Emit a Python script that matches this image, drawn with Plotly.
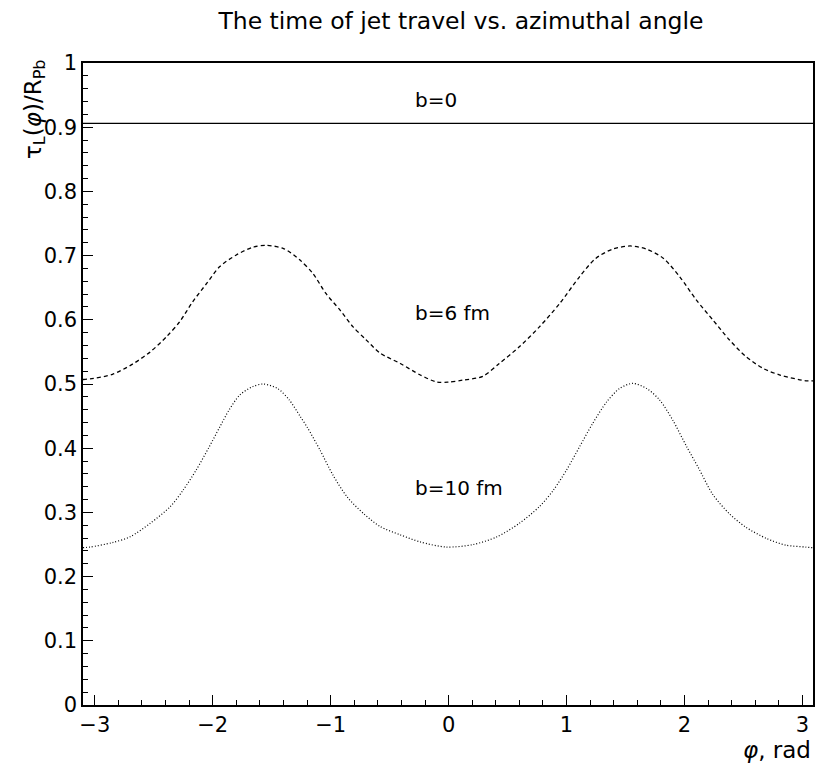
import plotly.graph_objects as go

phi_b0 = [-3.1, 3.09]
tau_b0 = [0.906, 0.906]

phi_b6 = [-3.10, -3.04, -2.85, -2.68, -2.53, -2.39, -2.28, -2.17, -2.05, -1.94, -1.80, -1.66, -1.55,
          -1.40, -1.26, -1.15, -1.04, -0.92, -0.81, -0.70, -0.58, -0.41, -0.24, -0.10, 0.0, 0.12,
          0.29, 0.43, 0.60, 0.77, 0.94, 1.11, 1.25, 1.39, 1.54, 1.68, 1.82, 1.96, 2.10, 2.24,
          2.38, 2.52, 2.67, 2.81, 3.03, 3.09]
tau_b6 = [0.507, 0.508, 0.515, 0.531, 0.550, 0.574, 0.597, 0.628, 0.657, 0.683, 0.701, 0.713, 0.716,
          0.711, 0.693, 0.672, 0.641, 0.615, 0.589, 0.569, 0.548, 0.532, 0.514, 0.503, 0.503, 0.506,
          0.512, 0.532, 0.558, 0.589, 0.625, 0.667, 0.696, 0.710, 0.715, 0.710, 0.696, 0.667, 0.631, 0.600,
          0.569, 0.543, 0.524, 0.514, 0.505, 0.505]

phi_b10 = [-3.10, -3.04, -2.85, -2.70, -2.53, -2.36, -2.25, -2.14, -2.03, -1.94, -1.86, -1.77, -1.66,
           -1.57, -1.45, -1.35, -1.26, -1.20, -1.09, -0.98, -0.86, -0.72, -0.58, -0.41, -0.24, -0.02,
           0.21, 0.41, 0.60, 0.77, 0.89, 1.00, 1.11, 1.22, 1.34, 1.45, 1.56, 1.68, 1.79, 1.90, 2.02,
           2.12, 2.24, 2.38, 2.52, 2.70, 2.86, 3.03, 3.09]
tau_b10 = [0.245, 0.246, 0.253, 0.262, 0.283, 0.309, 0.335, 0.366, 0.402, 0.433, 0.460, 0.483, 0.496,
           0.500, 0.493, 0.475, 0.450, 0.433, 0.397, 0.358, 0.324, 0.298, 0.278, 0.265, 0.254, 0.246,
           0.250, 0.262, 0.283, 0.309, 0.335, 0.366, 0.402, 0.438, 0.472, 0.493, 0.501, 0.493, 0.475,
           0.444, 0.402, 0.369, 0.328, 0.298, 0.277, 0.259, 0.249, 0.246, 0.245]

labels = ["b=0", "b=6 fm", "b=10 fm"]
label_x = [-0.3, -0.3, -0.3]
label_y = [0.943, 0.611, 0.338]

FONT = "DejaVu Sans, sans-serif"

fig = go.Figure()
fig.add_trace(go.Scatter(x=phi_b0, y=tau_b0, mode="lines",
                         line=dict(color="black", width=1.3), showlegend=False))
fig.add_trace(go.Scatter(x=phi_b6, y=tau_b6, mode="lines", line_shape="spline",
                         line=dict(color="black", width=1.3, dash="4px,3px", smoothing=0.8),
                         showlegend=False))
fig.add_trace(go.Scatter(x=phi_b10, y=tau_b10, mode="lines", line_shape="spline",
                         line=dict(color="black", width=1.2, dash="1px,2px", smoothing=0.8),
                         showlegend=False))

for t, xx, yy in zip(labels, label_x, label_y):
    fig.add_annotation(x=xx, y=yy, text=t, showarrow=False, xanchor="left", yanchor="middle",
                       font=dict(family=FONT, size=20, color="black"))

fig.add_annotation(xref="paper", yref="paper", x=-0.066, y=1.009, xanchor="center", yanchor="top",
                   text="τ<sub>L</sub>(<i>φ</i>)/R<sub>Pb</sub>", textangle=-90, showarrow=False,
                   font=dict(family=FONT, size=23, color="black"))
fig.add_annotation(xref="paper", yref="paper", x=1.0, y=-0.07, xanchor="right", yanchor="middle",
                   text="<i>φ</i>, rad", showarrow=False,
                   font=dict(family=FONT, size=23, color="black"))

fig.update_layout(
    width=829, height=766,
    margin=dict(l=83, r=16, t=63, b=61),
    paper_bgcolor="white", plot_bgcolor="white",
    title=dict(text="The time of jet travel vs. azimuthal angle", x=0.556, xanchor="center",
               y=0.973, yanchor="middle", font=dict(family=FONT, size=23.5, color="black")),
    font=dict(family=FONT, size=21, color="black"),
)
fig.update_xaxes(range=[-3.1, 3.09], showgrid=False, zeroline=False, showline=True, mirror=True,
                 linecolor="black", linewidth=1.5, ticks="inside", ticklen=10, tickwidth=1,
                 tickcolor="black", dtick=1, tick0=0, tickformat="d",
                 tickfont=dict(family=FONT, size=21),
                 minor=dict(dtick=0.2, ticks="inside", ticklen=5, tickcolor="black"))
fig.update_yaxes(range=[0, 1], showgrid=False, zeroline=False, showline=True, mirror=True,
                 linecolor="black", linewidth=1.5, ticks="inside", ticklen=10, tickwidth=1,
                 tickcolor="black",
                 tickvals=[0, 0.1, 0.2, 0.3, 0.4, 0.5, 0.6, 0.7, 0.8, 0.9, 1],
                 ticktext=["0", "0.1", "0.2", "0.3", "0.4", "0.5", "0.6", "0.7", "0.8", "0.9", "1"],
                 tickfont=dict(family=FONT, size=21),
                 minor=dict(dtick=0.02, ticks="inside", ticklen=5, tickcolor="black"))

fig.write_html("out.html")
